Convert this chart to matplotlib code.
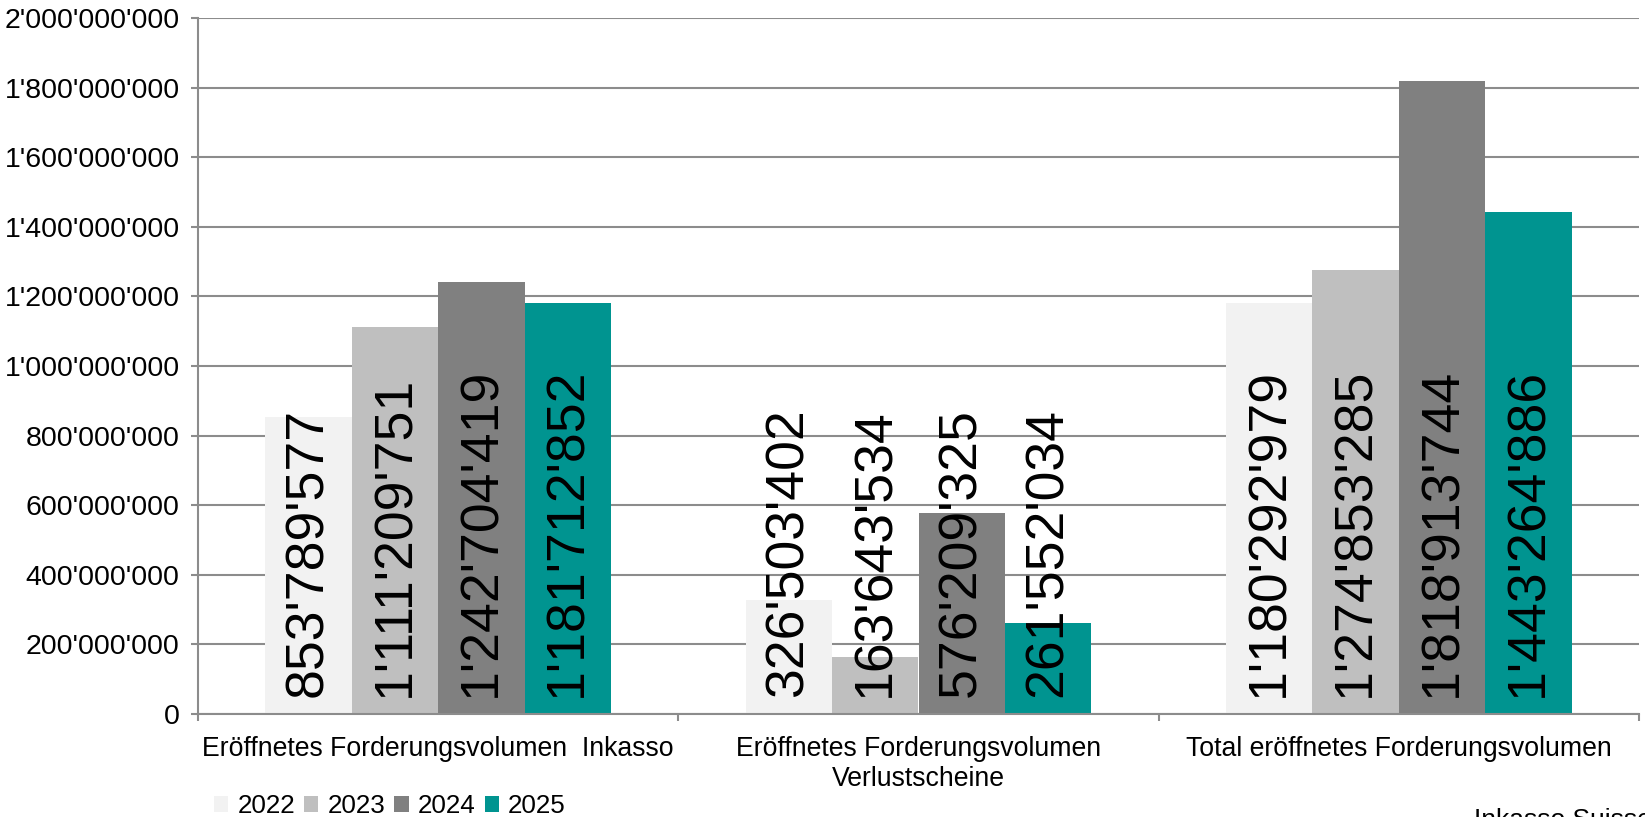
import numpy as np
import matplotlib
matplotlib.use("Agg")
import matplotlib.pyplot as plt
from matplotlib.ticker import FuncFormatter

plt.rcParams['font.family'] = ['Liberation Sans', 'DejaVu Sans']

categories = ["Eröffnetes Forderungsvolumen  Inkasso",
              "Eröffnetes Forderungsvolumen\nVerlustscheine",
              "Total eröffnetes Forderungsvolumen"]
years = ["2022", "2023", "2024", "2025"]
v2022 = [853789577, 326503402, 1180292979]
v2023 = [1111209751, 163643534, 1274853285]
v2024 = [1242704419, 576209325, 1818913744]
v2025 = [1181712852, 261552034, 1443264886]
colors = ["#f2f2f2", "#bfbfbf", "#808080", "#009490"]
grid_col = "#8c8c8c"

def swiss(v):
    return f"{int(v):,}".replace(",", "'")

fig = plt.figure(figsize=(16.45, 8.17), dpi=100)
ax = fig.add_axes([198/1645, 1-714/817, (1639-198)/1645, (714-18)/817])

x = np.arange(len(categories)) + 0.5
w = 0.18
series = [v2022, v2023, v2024, v2025]
for i, (vals, c, yr) in enumerate(zip(series, colors, years)):
    pos = x + (i - 1.5) * w
    ax.bar(pos, vals, width=w, color=c, label=yr, zorder=2)
    for px, v in zip(pos, vals):
        ax.annotate(swiss(v), (px, 0), xytext=(0, 12), textcoords="offset points",
                    rotation=90, ha="center", va="bottom", fontsize=38.5, zorder=3)

ax.set_xlim(0, 3)
ax.set_ylim(0, 2e9)
ax.set_yticks(np.arange(0, 2.0e9 + 1, 2e8))
ax.yaxis.set_major_formatter(FuncFormatter(lambda v, p: swiss(v)))
ax.grid(axis="y", color=grid_col, linewidth=1.5, zorder=0)
ax.set_axisbelow(True)

ax.set_xticks(x)
ax.set_xticklabels(categories, fontsize=19.2)
ax.set_xticks([0, 1, 2, 3], minor=True)
ax.tick_params(axis="x", which="major", length=0, pad=16)
ax.tick_params(axis="x", which="minor", length=5.3, width=1.5, color=grid_col, direction="out")
ax.tick_params(axis="y", length=5.3, width=1.5, color=grid_col, labelsize=20.5, pad=8)

for s in ["top", "right"]:
    ax.spines[s].set_visible(False)
for s in ["left", "bottom"]:
    ax.spines[s].set_color(grid_col)
    ax.spines[s].set_linewidth(1.5)

fig.legend(loc="center left", bbox_to_anchor=(214/1645, 1-806/817), ncol=4, frameon=False,
           fontsize=18.7, handlelength=0.55, handleheight=0.55, handletextpad=0.35,
           columnspacing=0.35, borderaxespad=0, borderpad=0)

fig.text(1474/1645, 1-808/817, "Inkasso Suisse | 4", fontsize=19, va="top", ha="left")

fig.savefig("out.png", dpi=100)
